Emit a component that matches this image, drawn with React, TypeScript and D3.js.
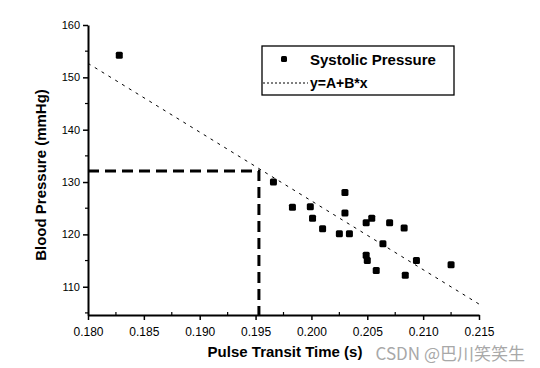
import React, { useEffect, useRef } from 'react';
import * as d3 from 'd3';

// values
const pulseTime = [
  0.1828, 0.1966, 0.2030, 0.1983, 0.1999, 0.2001, 0.2030, 0.2010, 0.2025, 0.2034, 0.2049,
  0.2054, 0.2070, 0.2083, 0.2064, 0.2049, 0.2050, 0.2058, 0.2094, 0.2084, 0.2125,
];
const systolic = [
  154.2, 130.0, 128.0, 125.2, 125.3, 123.1, 124.1, 121.1, 120.1, 120.1, 122.2,
  123.1, 122.2, 121.2, 118.2, 116.0, 115.0, 113.1, 115.0, 112.2, 114.2,
];
const xTicks = [0.18, 0.185, 0.19, 0.195, 0.2, 0.205, 0.21, 0.215];
const yTicks = [110, 120, 130, 140, 150, 160];
const fitA = 389.2;
const fitB = -1314;
const markX = 0.1953;
const markY = 132.1;
const legendLabels = ['Systolic Pressure', 'y=A+B*x'];

const W = 540;
const H = 368;

export default function App() {
  const ref = useRef<SVGSVGElement>(null);

  useEffect(() => {
    const svg = d3.select(ref.current);
    svg.selectAll('*').remove();

    const x = d3.scaleLinear().domain([0.18, 0.215]).range([88, 479]);
    const y = d3.scaleLinear().domain([104.6, 160]).range([315, 25]);
    const font = 'Liberation Sans, Arial, sans-serif';

    svg.append('rect').attr('width', W).attr('height', H).attr('fill', '#fff');

    // x axis
    const gx = svg.append('g').attr('transform', `translate(0,${y.range()[0]})`)
      .call(d3.axisBottom(x).tickValues(xTicks).tickFormat(d3.format('.3f')).tickSize(5).tickSizeOuter(0));
    gx.select('.domain').attr('stroke', '#000').attr('stroke-width', 2);
    gx.selectAll('.tick line').attr('stroke', '#000').attr('stroke-width', 1.5);
    gx.selectAll('.tick text').attr('font-family', font).attr('font-size', 12).attr('fill', '#000').attr('dy', '1.05em');
    const xMinor = d3.range(0.1825, 0.215, 0.005);
    gx.selectAll('.minor').data(xMinor).enter().append('line')
      .attr('x1', d => x(d)).attr('x2', d => x(d)).attr('y1', 0).attr('y2', -3)
      .attr('stroke', '#000').attr('stroke-width', 1.2);

    // y axis
    const gy = svg.append('g').attr('transform', `translate(${x.range()[0]},0)`)
      .call(d3.axisLeft(y).tickValues(yTicks).tickSize(5).tickSizeOuter(0));
    gy.select('.domain').attr('stroke', '#000').attr('stroke-width', 2);
    gy.selectAll('.tick line').attr('stroke', '#000').attr('stroke-width', 1.5);
    gy.selectAll('.tick text').attr('font-family', font).attr('font-size', 11).attr('fill', '#000');
    const yMinor = d3.range(105, 160, 10);
    gy.selectAll('.minor').data(yMinor).enter().append('line')
      .attr('x1', 0).attr('x2', -3).attr('y1', d => y(d)).attr('y2', d => y(d))
      .attr('stroke', '#000').attr('stroke-width', 1.2);

    // axis titles
    svg.append('text')
      .attr('x', 285).attr('y', 357)
      .attr('text-anchor', 'middle').attr('font-family', font).attr('font-size', 15)
      .attr('font-weight', 'bold').text('Pulse Transit Time (s)');
    svg.append('text')
      .attr('transform', 'translate(46,175) rotate(-90)')
      .attr('text-anchor', 'middle').attr('font-family', font).attr('font-size', 15)
      .attr('font-weight', 'bold').text('Blood Pressure (mmHg)');

    // fitted line
    const fit = d3.line<number>().x(d => x(d)).y(d => y(fitA + fitB * d));
    svg.append('path').datum(x.domain())
      .attr('d', fit).attr('fill', 'none').attr('stroke', '#000')
      .attr('stroke-width', 1).attr('stroke-dasharray', '3,5');

    // dashed reference lines
    svg.append('path')
      .attr('d', `M${x(0.18)},${y(markY)}H${x(markX)}V${y.range()[0]}`)
      .attr('fill', 'none').attr('stroke', '#000').attr('stroke-width', 3)
      .attr('stroke-dasharray', '11,6');

    // scatter
    const s = 7;
    svg.append('g').selectAll('rect').data(pulseTime).enter().append('rect')
      .attr('x', d => x(d) - s / 2).attr('y', (_, i) => y(systolic[i]) - s / 2)
      .attr('width', s).attr('height', s).attr('rx', 1.5).attr('fill', '#000');

    // legend
    const lg = svg.append('g').attr('transform', 'translate(262,46)');
    lg.append('rect').attr('width', 192).attr('height', 49)
      .attr('fill', '#fff').attr('stroke', '#000').attr('stroke-width', 1.3);
    lg.append('rect').attr('x', 19).attr('y', 10).attr('width', 6).attr('height', 6)
      .attr('rx', 1.5).attr('fill', '#000');
    lg.append('text').attr('x', 48).attr('y', 19).attr('font-family', font)
      .attr('font-size', 15).attr('font-weight', 'bold').text(legendLabels[0]);
    lg.append('line').attr('x1', 1).attr('x2', 46).attr('y1', 37).attr('y2', 37)
      .attr('stroke', '#000').attr('stroke-width', 1).attr('stroke-dasharray', '2,2');
    lg.append('text').attr('x', 48).attr('y', 42).attr('font-family', font)
      .attr('font-size', 14).attr('font-weight', 'bold').text(legendLabels[1]);

    // watermark
    svg.append('text').attr('x', 525).attr('y', 360).attr('text-anchor', 'end')
      .attr('font-family', 'Noto Sans CJK SC, sans-serif').attr('font-size', 17)
      .attr('fill', '#a8a8a8').text('CSDN @巴川笑笑生');
  }, []);

  return (
    <svg ref={ref} width={W} height={H} style={{ position: 'absolute', left: 0, top: 0 }} />
  );
}
